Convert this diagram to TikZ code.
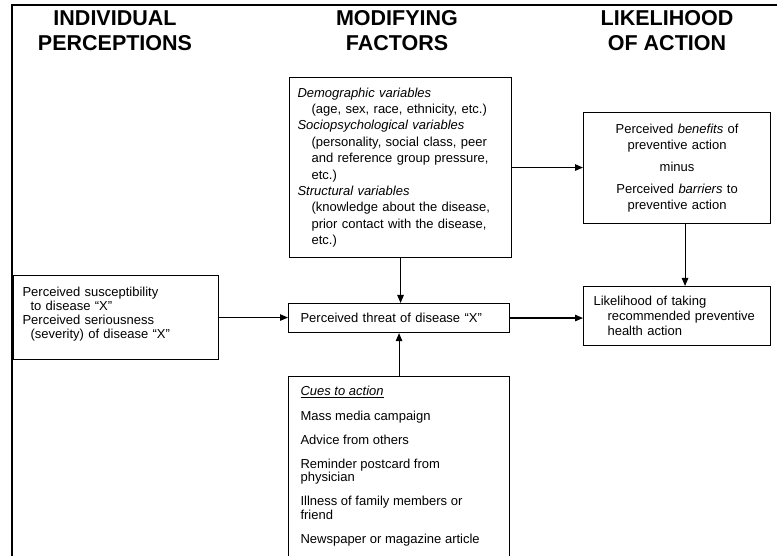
\documentclass[tikz,border=0pt]{standalone}
\usepackage{fontspec}
\setmainfont{Liberation Sans}
\usetikzlibrary{arrows.meta}
\begin{document}
\begin{tikzpicture}[x=1pt,y=-1pt,
  box/.style={draw, line width=1.1pt, inner ysep=0pt},
  txt/.style={font=\fontsize{13}{16}\selectfont},
  arr/.style={line width=1.1pt, -{Triangle[length=8pt,width=6.5pt]}},
  head/.style={font=\fontsize{21.5}{25}\selectfont\bfseries, align=center, inner sep=0pt}]
\useasboundingbox (0,0) rectangle (777,556);
\clip (0,0) rectangle (777,556);
\fill[white] (0,0) rectangle (777,556);
\draw[line width=2pt] (12,556) -- (12,5) -- (777,5);

% headers
\node[head] (h1) at (115,31) {INDIVIDUAL\\PERCEPTIONS};
\node[head] (h2) at (397,31) {MODIFYING\\FACTORS};
\node[head] (h3) at (667,31) {LIKELIHOOD\\OF ACTION};

% left box
\node[box, anchor=north west, inner xsep=9pt, text width=187pt, minimum height=84pt, align=left,
      font=\fontsize{13}{14.2}\selectfont] (left) at (13,275)
  {Perceived susceptibility\\\hspace*{8pt}to disease ``X''\\Perceived seriousness\\\hspace*{8pt}(severity) of disease ``X''\\[-5pt]\mbox{}};

% threat box
\node[box, txt, anchor=north west, inner xsep=12pt, text width=197pt, minimum height=29pt, align=left] (threat) at (288,303)
  {Perceived threat of disease ``X''};

% modifying factors
\node[box, anchor=north west, inner xsep=8pt, text width=206pt, minimum height=180pt, align=left,
      font=\fontsize{13}{16.4}\selectfont] (mod) at (289,77)
  {\textit{Demographic variables}\\
   \hspace*{14pt}(age, sex, race, ethnicity, etc.)\\
   \textit{Sociopsychological variables}\\
   \hspace*{14pt}(personality, social class, peer\\
   \hspace*{14pt}and reference group pressure,\\
   \hspace*{14pt}etc.)\\
   \textit{Structural variables}\\
   \hspace*{14pt}(knowledge about the disease,\\
   \hspace*{14pt}prior contact with the disease,\\
   \hspace*{14pt}etc.)};

% benefits box
\node[box, txt, anchor=north west, inner xsep=6pt, text width=175pt, minimum height=111pt, align=center] (ben) at (583,112)
  {Perceived \textit{benefits} of\\preventive action\\[6pt]minus\\[6pt]Perceived \textit{barriers} to\\preventive action};

% likelihood box
\node[box, anchor=north west, inner xsep=10pt, text width=167pt, minimum height=59pt, align=left,
      font=\fontsize{13}{15}\selectfont] (like) at (583,286)
  {Likelihood of taking\\\hspace*{14pt}recommended preventive\\\hspace*{14pt}health action};

% cues box
\node[box, anchor=north west, inner xsep=12pt, inner ysep=10pt] (cues) at (288,376)
  {\parbox[t][200pt][t]{197pt}{\raggedright\fontsize{13}{13.6}\selectfont
   \underline{\textit{Cues to action}}\\[10.5pt]
   Mass media campaign\\[10.5pt]
   Advice from others\\[10.5pt]
   Reminder postcard from\\
   physician\\[10.5pt]
   Illness of family members or\\
   friend\\[10.5pt]
   Newspaper or magazine article}};

% connectors
\draw[arr] (left.east) -- (left.east -| threat.west);
\draw[arr] (threat.east) -- (threat.east -| like.west);
\draw[arr] (mod.south) -- (mod.south |- threat.north);
\draw[arr] (cues.north) -- (cues.north |- threat.south);
\draw[arr] (mod.east) -- (mod.east -| ben.west);
\draw[arr] ([xshift=8pt]ben.south) -- ([xshift=8pt]ben.south |- like.north);
\end{tikzpicture}
\end{document}
